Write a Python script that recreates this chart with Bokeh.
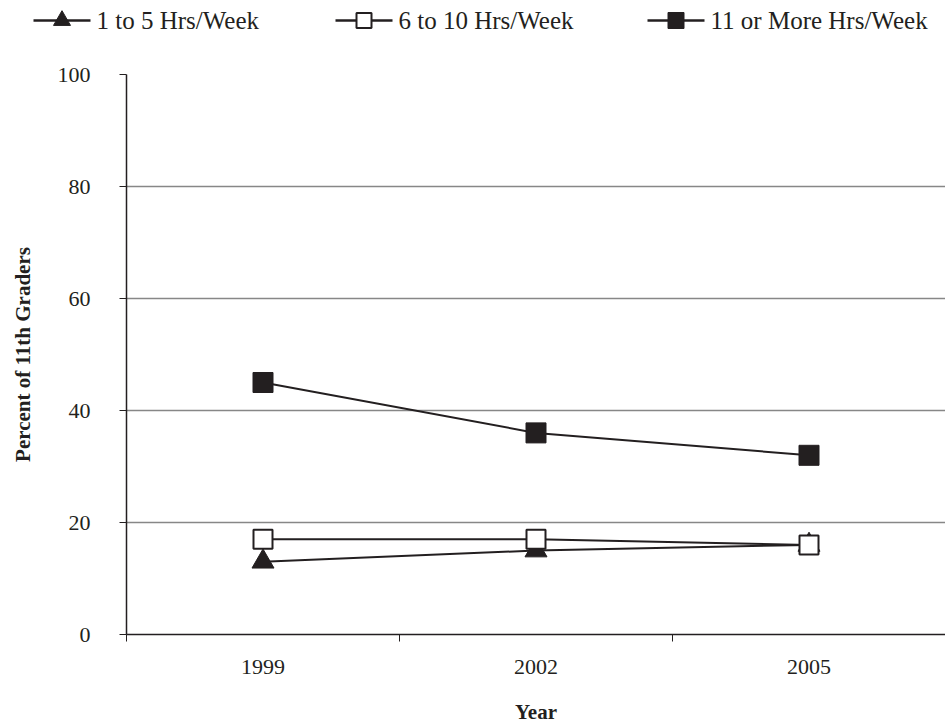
from bokeh.plotting import figure
from bokeh.models import FixedTicker, LinearAxis, Range1d
from bokeh.core.properties import value
from bokeh.embed import file_html
from bokeh.resources import INLINE

years = ["1999", "2002", "2005"]
hrs_1_5 = [13, 15, 16]
hrs_6_10 = [17, 17, 16]
hrs_11_more = [45, 36, 32]
y_ticks = [0, 20, 40, 60, 80, 100]
series_labels = ["1 to 5 Hrs/Week", "6 to 10 Hrs/Week", "11 or More Hrs/Week"]

FONT = "Liberation Serif"
INK = "#231f20"
W = 945
H = 727
LEG_H = 40

xs = [i + 0.5 for i in range(len(years))]

# ---------------- legend strip ----------------
leg = figure(width=W, height=LEG_H, output_backend="svg", toolbar_location=None,
             x_range=Range1d(0, W), y_range=Range1d(0, LEG_H),
             min_border=0, outline_line_color=None, x_axis_location=None, y_axis_location=None)
leg.grid.visible = False
leg.background_fill_color = "white"
leg.border_fill_color = "white"

leg_x0 = [33, 335, 647]      # left end of each legend glyph line (screen px)
glyph_w = 57
ly = 20
styles = [
    dict(marker="triangle", size=17, fill_color=INK, line_color=INK, line_width=1),
    dict(marker="square", size=15, fill_color="white", line_color=INK, line_width=2),
    dict(marker="square", size=16, fill_color=INK, line_color=INK, line_width=1),
]
for x0, lab, st in zip(leg_x0, series_labels, styles):
    leg.line([x0, x0 + glyph_w], [ly, ly], line_color=INK, line_width=2.5)
    leg.scatter([x0 + glyph_w / 2], [ly], **st)
    leg.text([x0 + glyph_w + 6], [ly], text=[lab], text_font=value(FONT),
             text_font_size="25px", text_color=INK, text_baseline="middle", text_align="left")

# ---------------- main chart ----------------
p = figure(width=W, height=H - LEG_H, output_backend="svg", toolbar_location=None,
           x_range=Range1d(0, len(years)), y_range=Range1d(0, 100),
           min_border_left=126, min_border_right=0, min_border_top=34, min_border_bottom=93,
           outline_line_color=None, x_axis_location=None)

p.background_fill_color = "white"
p.border_fill_color = "white"

p.line(xs, hrs_1_5, line_color=INK, line_width=2)
p.scatter(xs, hrs_1_5, marker="triangle", size=22, fill_color=INK, line_color=INK)
p.line(xs, hrs_6_10, line_color=INK, line_width=2)
p.scatter(xs, hrs_6_10, marker="square", size=19, fill_color="white", line_color=INK, line_width=2)
p.line(xs, hrs_11_more, line_color=INK, line_width=2)
p.scatter(xs, hrs_11_more, marker="square", size=20, fill_color=INK, line_color=INK)

p.yaxis.ticker = FixedTicker(ticks=y_ticks)
p.yaxis.axis_line_color = INK
p.yaxis.axis_line_width = 1.5
p.yaxis.major_tick_line_color = INK
p.yaxis.major_tick_out = 7
p.yaxis.major_tick_in = 0
p.yaxis.minor_tick_line_color = None
p.yaxis.major_label_text_font = FONT
p.yaxis.major_label_text_font_size = "22px"
p.yaxis.major_label_text_color = INK
p.yaxis.major_label_standoff = 29
p.yaxis.axis_label = "Percent of 11th Graders"
p.yaxis.axis_label_text_font = FONT
p.yaxis.axis_label_text_font_style = "bold"
p.yaxis.axis_label_text_font_size = "21px"
p.yaxis.axis_label_text_color = INK
p.yaxis.axis_label_standoff = 20

p.ygrid.ticker = FixedTicker(ticks=y_ticks)
p.ygrid.grid_line_color = "#878787"
p.ygrid.grid_line_width = 1.3
p.xgrid.grid_line_color = None

xa = LinearAxis(ticker=FixedTicker(ticks=list(range(len(years) + 1))))
xa.axis_line_color = INK
xa.axis_line_width = 1.5
xa.major_tick_line_color = INK
xa.major_tick_out = 7
xa.major_tick_in = 0
xa.minor_tick_line_color = None
xa.major_label_text_font_size = "0px"
xa.major_label_text_alpha = 0
xa.major_label_standoff = 0
p.add_layout(xa, "below")

xl = LinearAxis(ticker=FixedTicker(ticks=xs),
                major_label_overrides={x: y for x, y in zip(xs, years)})
xl.axis_line_color = None
xl.major_tick_line_color = None
xl.major_tick_out = 0
xl.minor_tick_line_color = None
xl.major_label_text_font = FONT
xl.major_label_text_font_size = "22px"
xl.major_label_text_color = INK
xl.major_label_standoff = 18
xl.axis_label = "Year"
xl.axis_label_text_font = FONT
xl.axis_label_text_font_style = "bold"
xl.axis_label_text_font_size = "21px"
xl.axis_label_text_color = INK
xl.axis_label_standoff = 23
p.add_layout(xl, "below")

open("out.html", "w").write(file_html([leg, p], INLINE))
